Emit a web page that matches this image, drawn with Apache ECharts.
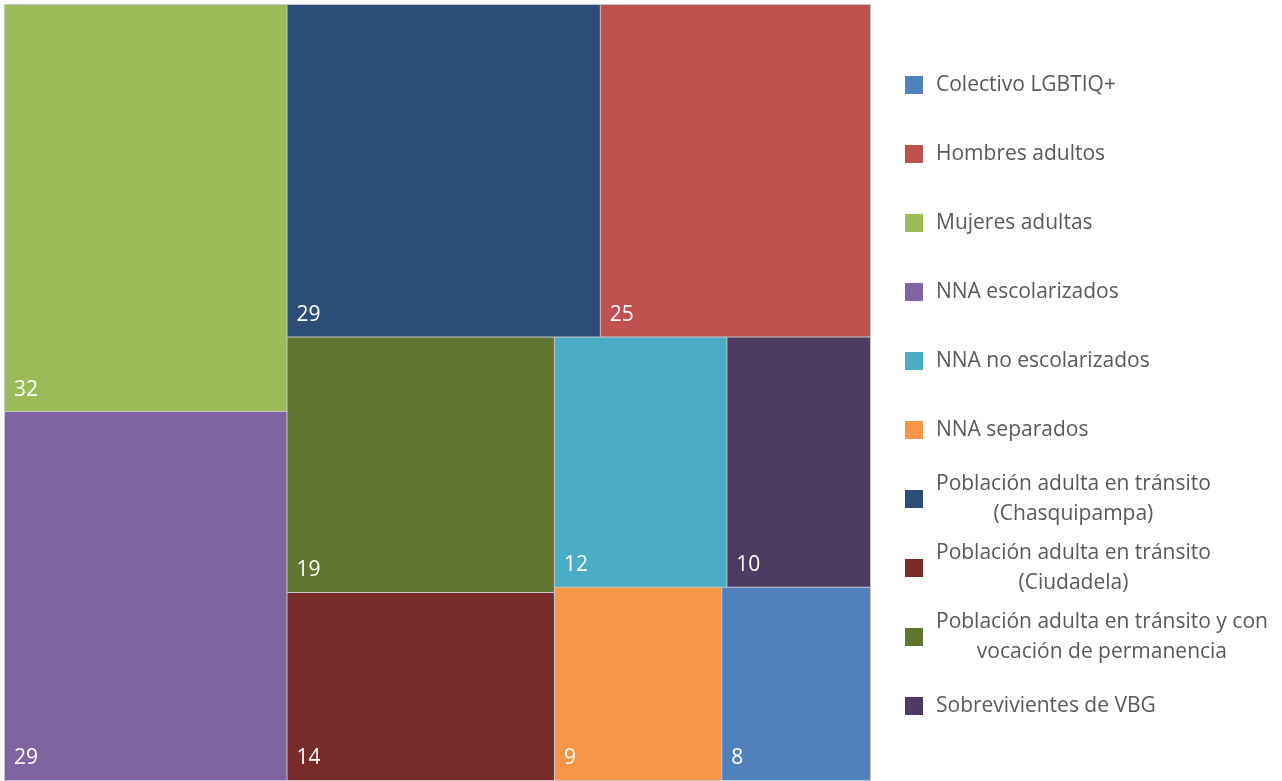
<!DOCTYPE html>
<html>
<head>
<meta charset="utf-8">
<script src="https://cdn.jsdelivr.net/npm/echarts@6/dist/echarts.min.js"></script>
<style>
  html, body { margin: 0; padding: 0; background: #fff; }
  #chart { width: 1282px; height: 781px; }
</style>
</head>
<body>
<div id="chart"></div>
<script>
// categories (legend order)
var categories = [
  'Colectivo LGBTIQ+',
  'Hombres adultos',
  'Mujeres adultas',
  'NNA escolarizados',
  'NNA no escolarizados',
  'NNA separados',
  'Población adulta en tránsito (Chasquipampa)',
  'Población adulta en tránsito (Ciudadela)',
  'Población adulta en tránsito y con vocación de permanencia',
  'Sobrevivientes de VBG'
]
var values = [8, 25, 32, 29, 12, 9, 29, 14, 19, 10]
var palette = ['#4F81BD', '#C0504D', '#9BBB59', '#8064A2', '#4BACC6',
  '#F79646', '#2C4D75', '#772C2A', '#5F7530', '#4D3B62']

var chart = echarts.init(document.getElementById('chart'))

var treeData = categories.map(function (name, i) {
  return { name: name, value: values[i], itemStyle: { color: palette[i] } }
})
// treemap breaks ties by higher index first, reverse so the order matches the original
var treeSeriesData = treeData.slice().reverse()

var legendTextColor = '#595959'

var option = {
  animation: false,
  legend: {
    orient: 'vertical',
    left: 905,
    top: 55,
    padding: 0,
    itemGap: 9,
    itemWidth: 18,
    itemHeight: 18,
    icon: 'rect',
    selectedMode: false,
    data: categories,
    formatter: function (name) {
      var lines = name.replace(' (', '\n(').replace(' vocación', '\nvocación').split('\n')
      if (lines.length === 1) return '{s|' + name + '}'
      return lines.map(function (l) { return '{m|' + l + '}' }).join('\n')
    },
    textStyle: {
      color: legendTextColor,
      fontFamily: 'Open Sans',
      fontSize: 21,
      padding: [0, 0, 0, 8],
      // transparent box so the item keeps its full line height
      backgroundColor: 'rgba(255,255,255,0)',
      rich: {
        s: { lineHeight: 60, fontSize: 21, fontFamily: 'Open Sans', color: legendTextColor },
        m: { lineHeight: 30, fontSize: 21, fontFamily: 'Open Sans', color: legendTextColor, align: 'center' }
      }
    }
  },
  series: [
    {
      type: 'treemap',
      left: 4,
      top: 4,
      width: 867,
      height: 777,
      roam: false,
      nodeClick: false,
      squareRatio: 1,
      breadcrumb: { show: false },
      itemStyle: {
        borderWidth: 0.5,
        borderColor: '#c8c8c8',
        gapWidth: 0
      },
      label: {
        show: true,
        position: 'insideBottomLeft',
        distance: 0,
        padding: [0, 0, 11, 9],
        formatter: '{c}',
        color: '#fff',
        fontFamily: 'Open Sans',
        fontSize: 21
      },
      data: treeSeriesData
    },
    {
      // hidden pie, only so the legend gets one entry per category
      type: 'pie',
      silent: true,
      center: [-500, -500],
      radius: 5,
      label: { show: false },
      labelLine: { show: false },
      data: treeData.map(function (d) {
        return { name: d.name, value: d.value, itemStyle: { color: d.itemStyle.color } }
      })
    }
  ]
}

chart.setOption(option)
</script>
</body>
</html>
